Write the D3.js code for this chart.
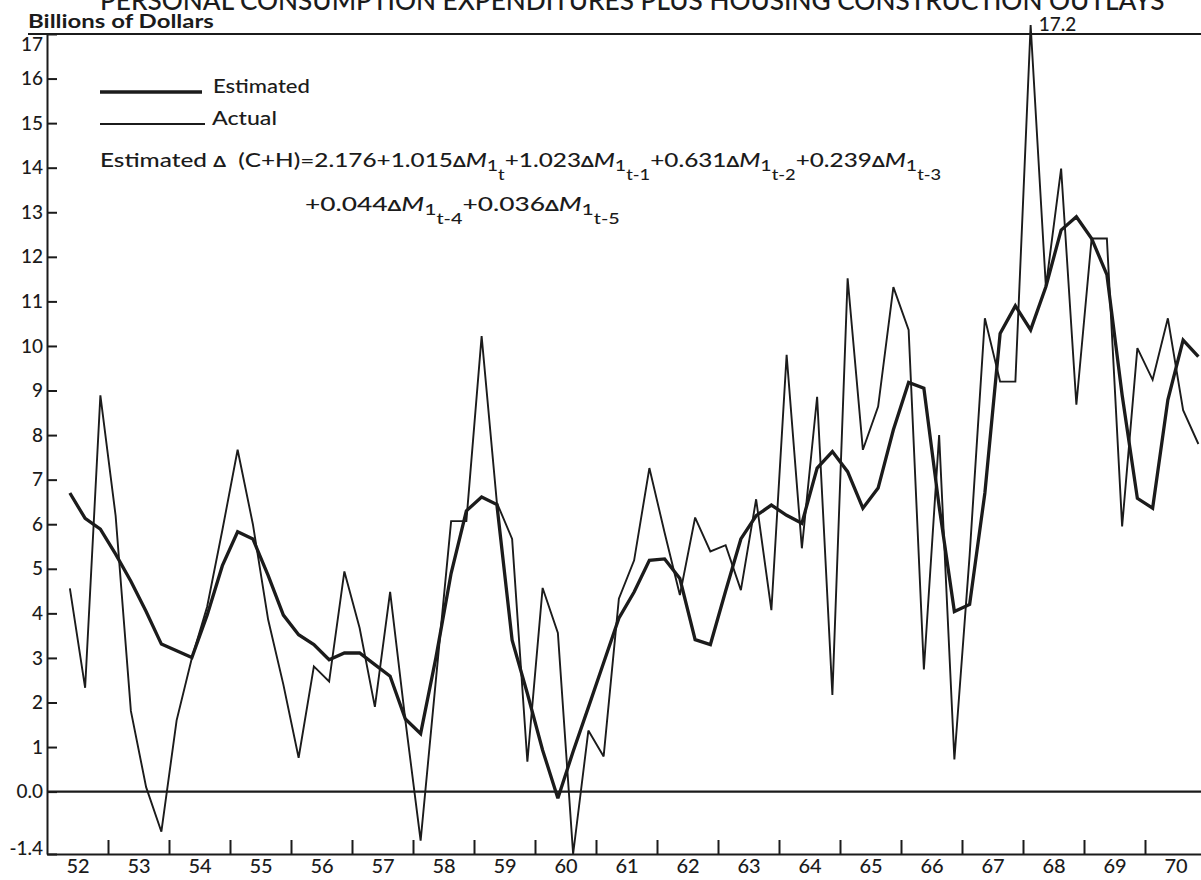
<!DOCTYPE html>
<html lang="en">
<head>
<meta charset="UTF-8">
<title>Personal Consumption Expenditures plus Housing Construction Outlays</title>
<style>
    body { margin: 0; background: #fff; }
    svg text { font-family: Lato, "Noto Sans", sans-serif; fill: #1b1b1b; }
</style>
</head>
<body>
<script src="https://d3js.org/d3.v7.min.js"></script>
<script>
    // quarterly changes, billions of dollars, first point = 1952 Q2
    const firstYear = 52;
    const firstQuarter = 2;

    const estimated = [
        6.70, 6.13, 5.89,
        5.33, 4.72, 4.04, 3.31,
        3.16, 3.01, 3.96, 5.07,
        5.83, 5.67, 4.85, 3.96,
        3.52, 3.30, 2.96, 3.11,
        3.11, 2.85, 2.59, 1.63,
        1.30, 3.00, 4.90, 6.30,
        6.61, 6.44, 3.40, 2.20,
        0.93, -0.15, 0.90, 1.89,
        2.89, 3.89, 4.48, 5.19,
        5.22, 4.78, 3.41, 3.30,
        4.50, 5.67, 6.19, 6.43,
        6.20, 6.02, 7.26, 7.63,
        7.18, 6.36, 6.81, 8.12,
        9.18, 9.05, 6.40, 4.04,
        4.20, 6.70, 10.28, 10.90,
        10.36, 11.33, 12.60, 12.90,
        12.41, 11.60, 8.90, 6.58,
        6.36, 8.79, 10.13, 9.76
    ];

    const actual = [
        4.56, 2.33, 8.89,
        6.19, 1.81, 0.10, -0.90,
        1.60, 3.00, 4.15, 5.87,
        7.67, 6.00, 3.86, 2.40,
        0.76, 2.81, 2.47, 4.94,
        3.67, 1.90, 4.48, 1.60,
        -1.10, 2.50, 6.07, 6.07,
        10.22, 6.48, 5.67, 0.67,
        4.57, 3.56, -1.40, 1.37,
        0.79, 4.33, 5.19, 7.26,
        5.81, 4.41, 6.15, 5.39,
        5.53, 4.52, 6.56, 4.07,
        9.80, 5.46, 8.86, 2.17,
        11.52, 7.67, 8.64, 11.32,
        10.36, 2.74, 8.00, 0.72,
        5.30, 10.62, 9.20, 9.20,
        17.20, 11.33, 13.98, 8.68,
        12.41, 12.41, 5.95, 9.95,
        9.24, 10.62, 8.56, 7.80
    ];

    const years = [52, 53, 54, 55, 56, 57, 58, 59, 60, 61, 62, 63, 64, 65, 66, 67, 68, 69, 70];
    const yearLabels = ["52", "53", "54", "55", "56", "57", "58", "59", "60", "61",
        "62", "63", "64", "65", "66", "67", "68", "69", "70"];
    const yTickValues = [-1.4, 0, 1, 2, 3, 4, 5, 6, 7, 8, 9, 10, 11, 12, 13, 14, 15, 16, 17];
    const yTickLabels = ["-1.4", "0.0", "1", "2", "3", "4", "5", "6", "7", "8", "9",
        "10", "11", "12", "13", "14", "15", "16", "17"];

    const titleText = "PERSONAL CONSUMPTION EXPENDITURES PLUS HOUSING CONSTRUCTION OUTLAYS";
    const unitText = "Billions of Dollars";
    const seriesNames = ["Estimated", "Actual"];

    const width = 1201, height = 880;
    const ink = "#1b1b1b";
    const font = "Lato, 'Noto Sans', sans-serif";
    const left = 47;

    const svg = d3.select("body").append("svg")
        .attr("width", width)
        .attr("height", height);

    const x = d3.scaleLinear().domain([52, 71]).range([left, left + 19 * 61]);
    const y = d3.scaleLinear().domain([-1.4, 17]).range([854, 34]);

    // middle of each quarter
    const qt = i => firstYear + (firstQuarter - 1 + i + 0.5) / 4;

    // squeeze / stretch a text horizontally so it spans the wanted width
    function fitWidth(t, x0, target) {
        const w = t.node().getBBox().width;
        const k = target / w;
        t.attr("transform", `translate(${x0},0) scale(${k},1) translate(${-x0},0)`);
    }

    // title (cut by the top of the picture)
    const title = svg.append("text")
        .attr("x", 100).attr("y", 10)
        .attr("font-size", 27)
        .attr("font-weight", 500)
        .text(titleText);
    fitWidth(title, 100, 1065);

    const unit = svg.append("text")
        .attr("x", 28).attr("y", 28)
        .attr("font-size", 19)
        .attr("font-weight", "bold")
        .text(unitText);
    fitWidth(unit, 28, 186);

    // frame lines
    svg.append("line")
        .attr("x1", 28).attr("x2", width)
        .attr("y1", y(17)).attr("y2", y(17))
        .attr("stroke", ink).attr("stroke-width", 2);

    svg.append("line")
        .attr("x1", left).attr("x2", width)
        .attr("y1", y(0)).attr("y2", y(0))
        .attr("stroke", ink).attr("stroke-width", 2.2);

    // y axis
    const yAxis = d3.axisLeft(y)
        .tickValues(yTickValues)
        .tickFormat(d => yTickLabels[yTickValues.indexOf(d)])
        .tickSize(-10)
        .tickSizeOuter(0)
        .tickPadding(4);

    const gy = svg.append("g")
        .attr("transform", `translate(${left},0)`)
        .call(yAxis);
    gy.select(".domain").attr("stroke", ink).attr("stroke-width", 2);
    gy.selectAll(".tick line").attr("stroke", ink).attr("stroke-width", 2);
    gy.selectAll(".tick text")
        .attr("font-size", 19)
        .attr("font-weight", 500)
        .attr("font-family", font)
        .attr("fill", ink);
    gy.selectAll(".tick").filter(d => d === 17).select("text").attr("dy", "0.85em");
    gy.selectAll(".tick").filter(d => d === -1.4).select("text").attr("dy", "0.05em");

    // x axis: year marks and labels
    const xAxis = d3.axisBottom(x)
        .tickValues(years.slice(1))
        .tickSize(-14)
        .tickSizeOuter(0)
        .tickFormat("");
    const gx = svg.append("g")
        .attr("transform", `translate(0,${y(-1.4)})`)
        .call(xAxis);
    gx.select(".domain").attr("stroke", ink).attr("stroke-width", 2);
    gx.selectAll(".tick line").attr("stroke", ink).attr("stroke-width", 2);

    const xLabels = d3.axisBottom(x)
        .tickValues(years.map(yr => yr + 0.5))
        .tickSize(0)
        .tickPadding(5)
        .tickFormat(d => yearLabels[years.indexOf(d - 0.5)]);
    const gxl = svg.append("g")
        .attr("transform", `translate(0,${y(-1.4)})`)
        .call(xLabels);
    gxl.select(".domain").remove();
    gxl.selectAll(".tick text")
        .attr("font-size", 20)
        .attr("font-weight", 500)
        .attr("font-family", font)
        .attr("fill", ink);

    // series
    const line = d3.line()
        .x((d, i) => x(qt(i)))
        .y(d => y(d));

    svg.append("path")
        .datum(actual)
        .attr("fill", "none")
        .attr("stroke", ink)
        .attr("stroke-width", 1.9)
        .attr("stroke-linejoin", "miter")
        .attr("stroke-miterlimit", 3)
        .attr("d", line);

    svg.append("path")
        .datum(estimated)
        .attr("fill", "none")
        .attr("stroke", ink)
        .attr("stroke-width", 3.3)
        .attr("stroke-linejoin", "miter")
        .attr("stroke-miterlimit", 3)
        .attr("d", line);

    // peak label
    const peakIndex = actual.indexOf(d3.max(actual));
    svg.append("text")
        .attr("x", x(qt(peakIndex)) + 8)
        .attr("y", y(17) - 3)
        .attr("font-size", 19)
        .attr("font-weight", 500)
        .text(d3.max(actual).toFixed(1));

    // legend
    const legend = svg.append("g");
    legend.append("line")
        .attr("x1", 100).attr("x2", 202)
        .attr("y1", 92).attr("y2", 92)
        .attr("stroke", ink).attr("stroke-width", 3.3);
    const le = legend.append("text")
        .attr("x", 213).attr("y", 93)
        .attr("font-size", 20)
        .attr("font-weight", 500)
        .text(seriesNames[0]);
    fitWidth(le, 213, 97);

    legend.append("line")
        .attr("x1", 100).attr("x2", 205)
        .attr("y1", 124).attr("y2", 124)
        .attr("stroke", ink).attr("stroke-width", 1.9);
    const la = legend.append("text")
        .attr("x", 212).attr("y", 125)
        .attr("font-size", 20)
        .attr("font-weight", 500)
        .text(seriesNames[1]);
    fitWidth(la, 212, 65);

    // regression equation; sub = 0 main line, 1 first subscript, 2 lag subscript
    const nb = "\u00a0";
    function term(coef, lag) {
        return [
            {text: coef},
            {text: "\u0394", size: 15, weight: "bold"},
            {text: "M", style: "italic"},
            {text: "1", size: 16, sub: 1},
            {text: lag, size: 15, sub: 2}
        ];
    }
    const eq1 = [{text: "Estimated" + nb}, {text: "\u0394", size: 15, weight: "bold"},
        {text: nb + nb + "(C+H)=2.176"}]
        .concat(term("+1.015", "t"), term("+1.023", "t-1"),
            term("+0.631", "t-2"), term("+0.239", "t-3"));
    const eq2 = term("+0.044", "t-4").concat(term("+0.036", "t-5"));
    const subShift = [0, 4, 13];

    function richText(x0, y0, parts) {
        const t = svg.append("text")
            .attr("x", x0).attr("y", y0)
            .attr("font-size", 20)
            .attr("font-weight", 500);
        parts.forEach(p => {
            t.append("tspan")
                .attr("y", y0 + subShift[p.sub || 0])
                .attr("font-size", p.size || 20)
                .attr("font-weight", p.weight || null)
                .attr("font-style", p.style || null)
                .text(p.text);
        });
        return t;
    }

    const e1 = richText(100, 167, eq1);
    fitWidth(e1, 100, 842);
    const e2 = richText(305, 211, eq2);
    fitWidth(e2, 305, 315);
</script>
</body>
</html>
